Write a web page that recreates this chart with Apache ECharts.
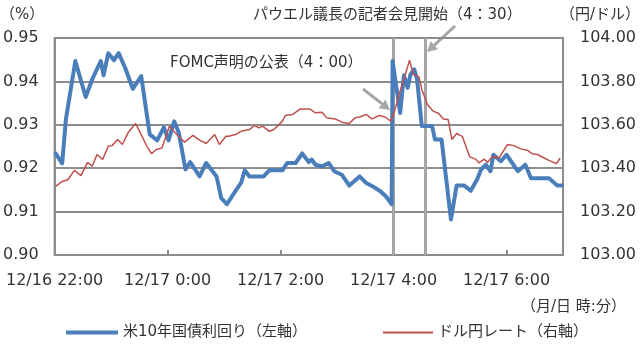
<!DOCTYPE html>
<html><head><meta charset="utf-8">
<script src="https://cdn.jsdelivr.net/npm/echarts@6/dist/echarts.min.js"></script>
<style>html,body{margin:0;padding:0;background:#fff}#c{width:640px;height:344px}</style>
</head><body><div id="c"></div>
<script>
const FONT = "'DejaVu Sans','Noto Sans CJK JP',sans-serif";
const TXT = '#333333';
const GRID = '#8c8c8c';

// x = minutes after 12/16 22:00
const xTickLabels = {0:'12/16 22:00',120:'12/17 0:00',240:'12/17 2:00',360:'12/17 4:00',480:'12/17 6:00'};
const seriesNames = ['米10年国債利回り（左軸）','ドル円レート（右軸）'];

const yieldTimes = [1,8,12,22,33,40,49,52,57,63,68,75,83,92,101,109,116,121,127,132,139,144,154,161,172,177,183,192,198,202,207,222,228,242,247,256,263,270,273,277,284,291,297,305,313,324,331,338,346,352,358,359,367,371,375,378,382,385,390,401,404,411,421,427,435,442,449,453,458,463,466,474,480,492,500,506,525,534,539];
const yieldValues = [0.9234,0.9211,0.9313,0.9447,0.9364,0.9405,0.9447,0.9414,0.9465,0.9449,0.9465,0.9431,0.9383,0.9412,0.9278,0.9264,0.9294,0.9264,0.9308,0.9281,0.9197,0.9214,0.9181,0.9212,0.9181,0.9131,0.9117,0.9147,0.9166,0.9195,0.9181,0.9181,0.9195,0.9195,0.9212,0.9212,0.9234,0.9214,0.9220,0.9208,0.9204,0.9212,0.9193,0.9185,0.9160,0.9181,0.9166,0.9158,0.9147,0.9135,0.9117,0.9447,0.9327,0.9414,0.9385,0.9416,0.9428,0.9405,0.9297,0.9297,0.9266,0.9266,0.9082,0.9160,0.9160,0.9148,0.9175,0.9197,0.9208,0.9193,0.9231,0.9216,0.9231,0.9193,0.9208,0.9177,0.9177,0.9160,0.9160];

const fxTimes = [1,8,14,21,28,35,40,45,51,57,61,67,72,78,86,91,98,103,108,114,122,128,138,147,153,161,170,175,182,185,192,198,207,212,217,221,228,233,242,245,253,261,271,277,284,289,298,305,313,319,324,331,337,345,351,357,361,367,372,377,381,387,390,396,402,408,413,418,422,427,433,441,447,451,456,460,465,472,481,488,495,502,507,513,520,525,533,537];
const fxValues = [103.316,103.339,103.347,103.390,103.366,103.427,103.409,103.463,103.440,103.501,103.504,103.532,103.509,103.563,103.606,103.563,103.501,103.467,103.486,103.493,103.594,103.563,103.520,103.551,103.532,103.514,103.555,103.509,103.547,103.547,103.555,103.570,103.578,103.597,103.586,103.594,103.570,103.578,103.617,103.643,103.648,103.673,103.673,103.655,103.658,103.632,103.627,103.612,103.606,103.632,103.636,103.648,103.627,103.643,103.636,103.617,103.663,103.755,103.824,103.898,103.832,103.821,103.763,103.694,103.663,103.652,103.627,103.624,103.532,103.560,103.547,103.452,103.442,103.424,103.442,103.427,103.455,103.447,103.509,103.504,103.489,103.483,103.467,103.463,103.447,103.436,103.421,103.447];

// event marker lines (minutes after 22:00): FOMC statement, Powell press conference
const eventTimes = [360, 394];

const chart = echarts.init(document.getElementById('c'), null, {renderer:'canvas'});

function txt(x, y, s, size, align) {
  return {type:'text', x:x, y:y, silent:true, style:{text:s, font: size + 'px ' + FONT, fill:TXT, verticalAlign:'middle', align: align || 'left'}};
}
function arrow(x1, y1, x2, y2) {
  const dx = x2 - x1, dy = y2 - y1, L = Math.hypot(dx, dy);
  const ux = dx / L, uy = dy / L, hl = 10, hw = 5.5;
  const bx = x2 - ux * hl, by = y2 - uy * hl;
  return [
    {type:'line', silent:true, shape:{x1:x1, y1:y1, x2:bx, y2:by}, style:{stroke:'#a6a6a6', lineWidth:3}},
    {type:'polygon', silent:true, shape:{points:[[x2, y2],[bx - uy * hw, by + ux * hw],[bx + uy * hw, by - ux * hw]]}, style:{fill:'#a6a6a6'}}
  ];
}

const option = {
  animation:false,
  backgroundColor:'#fff',
  grid:{left:54, right:77, top:38, bottom:89, show:true, borderColor:GRID, borderWidth:2, backgroundColor:'transparent'},
  xAxis:{type:'value', min:0, max:540, interval:120,
    axisLine:{show:true, lineStyle:{color:GRID, width:2}},
    axisTick:{show:true, inside:true, length:5, lineStyle:{color:GRID, width:2}},
    splitLine:{show:false},
    axisLabel:{formatter:v => xTickLabels[v] || '', margin:18, fontSize:16, fontFamily:FONT, color:TXT, showMaxLabel:false}
  },
  yAxis:[
    {type:'value', min:0.90, max:0.95, interval:0.01, position:'left',
      axisLine:{show:true, lineStyle:{color:GRID, width:2}}, axisTick:{show:false},
      splitLine:{show:true, lineStyle:{color:GRID, width:2}},
      axisLabel:{formatter:v => v.toFixed(2), margin:16, fontSize:16, fontFamily:FONT, color:TXT}
    },
    {type:'value', min:103, max:104, interval:0.2, position:'right',
      axisLine:{show:false}, axisTick:{show:false}, splitLine:{show:false},
      axisLabel:{formatter:v => v.toFixed(2), margin:17, fontSize:16, fontFamily:FONT, color:TXT}
    }
  ],
  legend:[
    {data:[seriesNames[0]], left:66, top:325, padding:0, icon:'rect', itemWidth:52, itemHeight:4, itemGap:6,
      textStyle:{fontSize:15, fontFamily:FONT, color:TXT}},
    {data:[seriesNames[1]], left:383, top:325, padding:0, icon:'rect', itemWidth:50, itemHeight:2, itemGap:6,
      textStyle:{fontSize:15, fontFamily:FONT, color:TXT}}
  ],
  series:[
    {name:seriesNames[0], type:'line', yAxisIndex:0, showSymbol:false, symbol:'none', z:3,
      data:yieldTimes.map((t, i) => [t, yieldValues[i]]),
      lineStyle:{color:'#4a7ebb', width:4, join:'round', cap:'round'}, itemStyle:{color:'#4a7ebb'},
      markLine:{silent:true, symbol:'none', label:{show:false}, z:2,
        lineStyle:{color:'#a6a6a6', width:3, type:'solid'},
        data:eventTimes.map(t => ({xAxis:t}))}
    },
    {name:seriesNames[1], type:'line', yAxisIndex:1, showSymbol:false, symbol:'none', z:4,
      data:fxTimes.map((t, i) => [t, fxValues[i]]),
      lineStyle:{color:'#c0504d', width:1.5}, itemStyle:{color:'#c0504d'}
    }
  ],
  graphic:[
    txt(0, 15, '（%）', 15),
    txt(560, 15, '（円/ドル）', 15),
    txt(253, 15, 'パウエル議長の記者会見開始（4：30）', 15),
    txt(170, 63, 'FOMC声明の公表（4：00）', 15),
    txt(521, 307, '（月/日 時:分）', 15),
    ...arrow(363, 89, 390, 110),
    ...arrow(455, 26, 427, 52)
  ]
};
chart.setOption(option);
</script></body></html>
